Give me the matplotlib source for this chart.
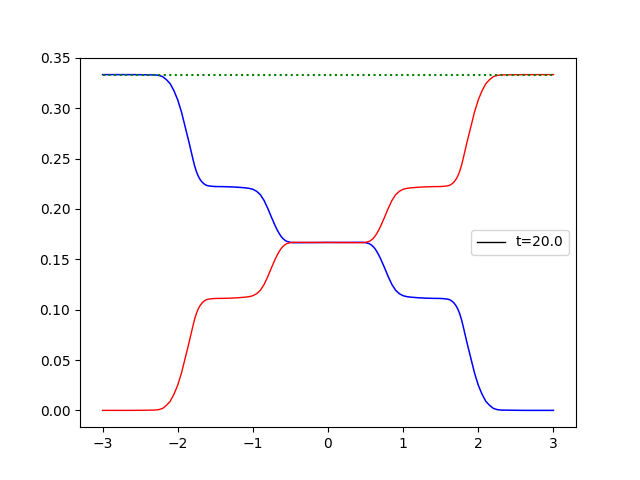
import matplotlib
matplotlib.use("Agg")
import matplotlib.pyplot as plt

x_left = [-3.0, -2.6, -2.3, -2.25, -2.2, -2.15, -2.1, -2.05, -2.0, -1.95,
          -1.9, -1.85, -1.8, -1.775, -1.75, -1.725, -1.7, -1.675, -1.65, -1.625,
          -1.6, -1.55, -1.5, -1.4, -1.3, -1.2, -1.1, -1.05, -1.0, -0.95,
          -0.9, -0.85, -0.8, -0.75, -0.7, -0.675, -0.65, -0.625, -0.6, -0.575,
          -0.55, -0.5, -0.45, -0.4, -0.2]
x_right = [0.2, 0.4, 0.45, 0.5, 0.55, 0.575, 0.6, 0.625, 0.65, 0.675,
           0.7, 0.75, 0.8, 0.85, 0.9, 0.95, 1.0, 1.05, 1.1, 1.2,
           1.3, 1.4, 1.5, 1.55, 1.6, 1.625, 1.65, 1.675, 1.7, 1.725,
           1.75, 1.775, 1.8, 1.85, 1.9, 1.95, 2.0, 2.05, 2.1, 2.15,
           2.2, 2.25, 2.3, 2.6, 3.0]
x_vals = x_left + [0.0] + x_right

#red curve (rising steps)
red_left = [0.0, 0.0, 0.0003, 0.0008, 0.002, 0.005, 0.009, 0.016, 0.025, 0.037,
            0.052, 0.067, 0.083, 0.0905, 0.0965, 0.1010, 0.1043, 0.1067, 0.1084, 0.1096,
            0.1103, 0.1108, 0.1111, 0.1112, 0.1114, 0.1118, 0.1124, 0.1129, 0.1138, 0.1158,
            0.1192, 0.125, 0.133, 0.142, 0.1505, 0.1543, 0.1576, 0.1605, 0.1627, 0.1643,
            0.1655, 0.1665, 0.1668, 0.1668, 0.1667]
red_right = [0.1666, 0.1665, 0.1665, 0.1668, 0.1678, 0.1690, 0.1706, 0.1728, 0.1757, 0.1790,
             0.1828, 0.1913, 0.2003, 0.2083, 0.2141, 0.2175, 0.2195, 0.2204, 0.2209, 0.2215,
             0.2219, 0.2221, 0.2222, 0.2225, 0.2230, 0.2237, 0.2249, 0.2266, 0.2290, 0.2323,
             0.2368, 0.2428, 0.2503, 0.2663, 0.2813, 0.2963, 0.3083, 0.3173, 0.3243, 0.3283,
             0.3313, 0.3325, 0.3330, 0.3333, 0.3333]
red_vals = red_left + [0.1667] + red_right

#blue curve (falling steps)
blue_left = [0.3333, 0.3333, 0.3330, 0.3325, 0.3313, 0.3283, 0.3243, 0.3173, 0.3083, 0.2963,
             0.2813, 0.2663, 0.2503, 0.2428, 0.2368, 0.2323, 0.2290, 0.2266, 0.2249, 0.2237,
             0.2230, 0.2225, 0.2222, 0.2221, 0.2219, 0.2215, 0.2209, 0.2204, 0.2195, 0.2175,
             0.2141, 0.2083, 0.2003, 0.1913, 0.1828, 0.1790, 0.1757, 0.1728, 0.1706, 0.1690,
             0.1678, 0.1668, 0.1665, 0.1665, 0.1666]
blue_right = [0.1667, 0.1668, 0.1668, 0.1665, 0.1655, 0.1643, 0.1627, 0.1605, 0.1576, 0.1543,
              0.1505, 0.142, 0.133, 0.125, 0.1192, 0.1158, 0.1138, 0.1129, 0.1124, 0.1118,
              0.1114, 0.1112, 0.1111, 0.1108, 0.1103, 0.1096, 0.1084, 0.1067, 0.1043, 0.1010,
              0.0965, 0.0905, 0.083, 0.067, 0.052, 0.037, 0.025, 0.016, 0.009, 0.005,
              0.002, 0.0008, 0.0003, 0.0, 0.0]
blue_vals = blue_left + [0.1667] + blue_right

#sum of the two, flat
total_x = [-3.0, 3.0]
total_vals = [0.3333, 0.3333]

legend_label = "t=20.0"

fig, ax = plt.subplots(figsize=(6.4, 4.8), dpi=100)
ax.plot(x_vals, blue_vals, color="blue", linewidth=1.1)
ax.plot(x_vals, red_vals, color="red", linewidth=1.0)
ax.plot(total_x, total_vals, color="green", linestyle=":", linewidth=1.5)
#empty line just for the legend entry
ax.plot([], [], color="black", linewidth=1.0, label=legend_label)
ax.set_ylim(-0.0167, 0.3502)
ax.legend(loc="center right")
fig.savefig("out.png")
